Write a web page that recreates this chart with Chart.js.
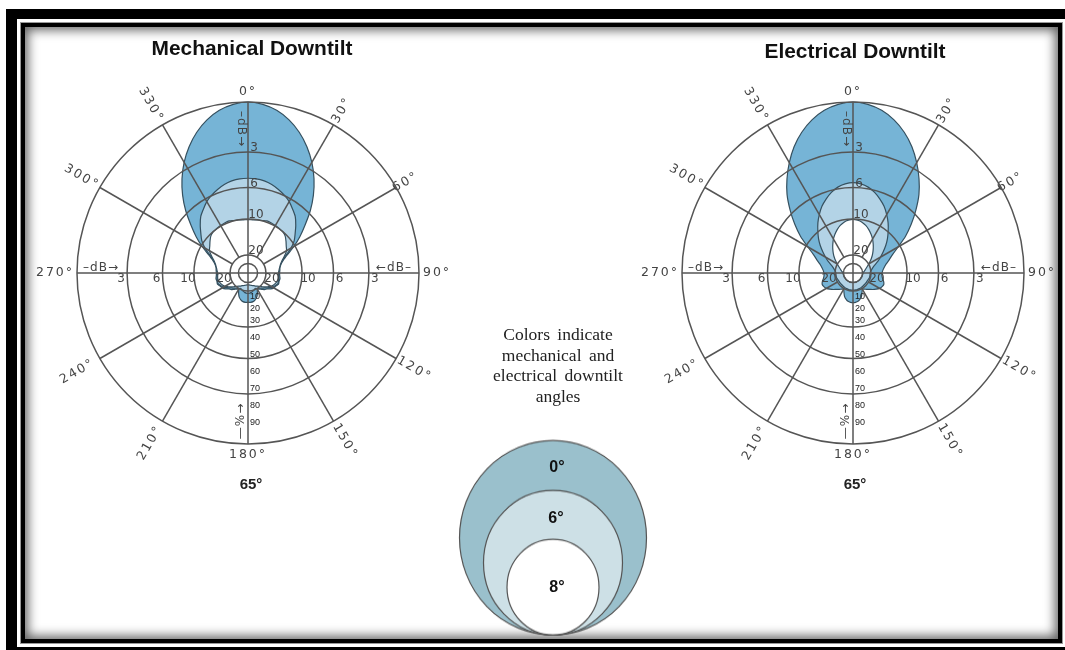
<!DOCTYPE html>
<html lang="en">
<head>
  <meta charset="UTF-8" />
  <title>Mechanical vs Electrical Downtilt</title>
  <script src="https://cdn.jsdelivr.net/npm/chart.js"></script>
  <style>
    html, body { margin: 0; padding: 0; background: white; overflow: hidden; }
    body { position: relative; width: 1065px; height: 650px; font-family: 'Liberation Sans', Arial, sans-serif; }

    /* picture frame */
    .bar { position: absolute; background: black; }
    .frame-inner { position: absolute; left: 21px; top: 23px; width: 1041px; height: 620px; box-sizing: border-box; background: white; border: 4px solid black; outline: 1px solid #999;
      box-shadow: inset 0 0 11px 3px rgba(0, 0, 0, 0.62); }

    canvas { position: absolute; }
    .title { position: absolute; font-weight: bold; font-size: 20.9px; color: #111; white-space: nowrap; transform: translateX(-50%); }
    .sub { position: absolute; font-weight: bold; font-size: 15px; color: #222; white-space: nowrap; transform: translateX(-50%); }
    .note { position: absolute; left: 458px; top: 324px; width: 200px; text-align: center; font-family: 'Liberation Serif', serif; font-size: 17.5px; line-height: 20.6px; word-spacing: 3px; color: #222; }
    .tilt { position: absolute; font-weight: bold; font-size: 16px; color: #111; transform: translateX(-50%); }
    #legendChart { transform: scaleY(1.04); transform-origin: bottom; }
  </style>
</head>
<body>
  <div class="bar" style="left:6px;top:9px;width:11px;height:641px"></div>
  <div class="bar" style="left:6px;top:9px;width:1059px;height:10px"></div>
  <div class="bar" style="left:17px;top:647px;width:1048px;height:3px"></div>
  <div class="frame-inner"></div>

  <canvas id="mechanicalChart" width="440" height="440" style="left:28px;top:53px"></canvas>
  <canvas id="electricalChart" width="440" height="440" style="left:633px;top:53px"></canvas>
  <canvas id="legendChart" width="220" height="220" style="left:443px;top:420px"></canvas>

  <div class="title" style="left:252px;top:36px">Mechanical Downtilt</div>
  <div class="title" style="left:855px;top:39px">Electrical Downtilt</div>
  <div class="sub" style="left:251px;top:475px">65°</div>
  <div class="sub" style="left:855px;top:475px">65°</div>
  <div class="note">Colors indicate<br>mechanical and<br>electrical downtilt<br>angles</div>
  <div class="tilt" style="left:557px;top:458px">0°</div>
  <div class="tilt" style="left:556px;top:509px">6°</div>
  <div class="tilt" style="left:557px;top:578px">8°</div>

  <script>
    // pattern radii are % of relative field, every 5 degrees clockwise from 0
    const angles = Array.from({ length: 72 }, (_, i) => i * 5);

    const mechanical0 = [100,99,96.6,92.7,87.6,81.5,74.7,67.3,59.5,51.5,43.5,37,31,25.5,22,20,19,18.7,18.5,18.6,19,18.8,19,18,17.4,16.2,14.5,13.7,12.5,11.5,11,13,15,16.2,17,17.2,17.2,
      17.2,17,16.2,15,13,11,11.5,12.5,13.7,14.5,16.2,17.4,18,19,18.8,19,18.6,18.5,18.7,19,20,22,25.5,31,37,43.5,51.5,59.5,67.3,74.7,81.5,87.6,92.7,96.6,99];
    const mechanical6 = [55.4,55.3,54.7,53.6,52,50.2,48.2,45.5,43,39.5,36,33,29,24.5,21,19.5,18.5,18,18,18,18.3,18.5,18.5,17.5,16.5,15,13.5,12.5,11.5,11,10.5,10,10.5,11,11.5,11.8,12,
      11.8,11.5,11,10.5,10,10.5,11,11.5,12.5,13.5,15,16.5,17.5,18.5,18.5,18.3,18,18,18,18.5,19.5,21,24.5,29,33,36,39.5,43,45.5,48.2,50.2,52,53.6,54.7,55.3];
    const mechanical8 = [31.2,31.2,31.5,31.8,32.4,32.3,32,31.8,31.5,30.7,29,27.3,26,23.5,21.2,19.7,18.8,18.2,17.8,17.8,18,17.8,17.2,16.5,15.6,14,12.7,11.3,10.2,9.4,8.8,8.2,7.8,7.5,7.2,7,7,
      7,7.2,7.5,7.8,8.2,8.8,9.4,10.2,11.3,12.7,14,15.6,16.5,17.2,17.8,18,17.8,17.8,18.2,18.8,19.7,21.2,23.5,26,27.3,29,30.7,31.5,31.8,32,32.3,32.4,31.8,31.5,31.2];

    const electrical0 = [100,99,96.6,92.7,87.6,81.5,74.5,67.3,60,52,44.5,37.5,30.5,25.5,22.5,20,18.5,17.5,17,17,17.5,18.5,19.2,18.8,18,16.5,15,13.5,12.5,11.5,11,12.5,14.5,15.8,16.8,17.2,17.3,
      17.2,16.8,15.8,14.5,12.5,11,11.5,12.5,13.5,15,16.5,18,18.8,19.2,18.5,17.5,17,17,17.5,18.5,20,22.5,25.5,30.5,37.5,44.5,52,60,67.3,74.5,81.5,87.6,92.7,96.6,99];
    const electrical6 = [52.8,52.3,51,48.8,46,43,39.4,35.8,32,28.5,25,21.5,18.5,16,13.5,12,11,10.3,10,10,10,10,9.8,9.6,9.5,9.5,9.5,9.5,9.5,9.6,9.7,9.8,9.9,10,10,10,10,
      10,10,10,9.9,9.8,9.7,9.6,9.5,9.5,9.5,9.5,9.5,9.6,9.8,10,10,10,10,10.3,11,12,13.5,16,18.5,21.5,25,28.5,32,35.8,39.4,43,46,48.8,51,52.3];
    const electrical8 = [31.4,31,30.2,28.8,27,25,22.9,20.6,18.4,16.3,14.3,12.4,10.7,9.3,8.2,7.4,6.8,6.2,5.9,5.8,5.7,5.6,5.6,5.6,5.5,5.5,5.5,5.5,5.5,5.5,5.5,5.5,5.5,5.5,5.5,5.5,5.5,
      5.5,5.5,5.5,5.5,5.5,5.5,5.5,5.5,5.5,5.5,5.5,5.5,5.6,5.6,5.6,5.7,5.8,5.9,6.2,6.8,7.4,8.2,9.3,10.7,12.4,14.3,16.3,18.4,20.6,22.9,25,27,28.8,30.2,31];

    // ring positions on the % scale: 0 dB, 3, 6, 10, 20 and the small inner ring (first tick is skipped by chart.js)
    const ringValues = [0, 5.6, 10.5, 31.6, 50, 70.7, 100];
    const dbTicks = ['3', '6', '10', '20'];
    const dbTickValues = [70.7, 50, 31.6, 10.5];
    const percentTicks = [10, 20, 30, 40, 50, 60, 70, 80, 90];

    const spokeAngles = [0, 30, 60, 90, 120, 150, 180, 210, 240, 270, 300, 330];
    const spokeLabels = ['0°', '30°', '60°', '90°', '120°', '150°', '180°', '210°', '240°', '270°', '300°', '330°'];
    const spokeLabelDist = [181, 188, 182, 189, 192, 194, 182, 196, 197, 193, 192, 194];
    const spokeLabelTurn = [0, -60, -30, 0, 30, 60, 0, -60, -30, 0, 30, 60];

    const legendLabels = ['8°', '6°', '0°'];
    const legendHeights = [50.8, 74.3, 98.3];
    const legendRadii = [46, 69.5, 93.5];
    const legendColors = ['#ffffff', '#cde0e6', '#9ac0cc'];

    const lineColor = '#555';

    function put(ctx, text, x, y, turn) {
      ctx.save();
      ctx.translate(x, y);
      ctx.rotate((turn || 0) * Math.PI / 180);
      ctx.fillText(text, 0, 0);
      ctx.restore();
    }

    const dialPlugin = {
      id: 'dial',
      afterDatasetsDraw(chart) {
        const ctx = chart.ctx;
        const s = chart.scales.r;
        const cx = s.xCenter, cy = s.yCenter;
        const outer = s.getDistanceFromCenterForValue(100);
        const inner = s.getDistanceFromCenterForValue(10.5);

        ctx.save();
        ctx.strokeStyle = lineColor;
        ctx.lineWidth = 1.5;
        spokeAngles.forEach((a) => {
          // only the vertical and horizontal axes run through the centre
          const from = a % 90 === 0 ? 0 : inner;
          const p1 = s.getPointPosition(a / 5, from);
          const p2 = s.getPointPosition(a / 5, outer);
          ctx.beginPath();
          ctx.moveTo(p1.x, p1.y);
          ctx.lineTo(p2.x, p2.y);
          ctx.stroke();
        });

        ctx.textAlign = 'center';
        ctx.textBaseline = 'middle';
        ctx.fillStyle = '#444';

        // degree labels
        ctx.font = "12.5px 'DejaVu Sans'";
        ctx.letterSpacing = '2px';
        spokeAngles.forEach((a, i) => {
          const p = s.getPointPosition(a / 5, spokeLabelDist[i]);
          put(ctx, spokeLabels[i], p.x, p.y, spokeLabelTurn[i]);
        });

        // dB arrows
        ctx.font = "12px 'DejaVu Sans'";
        ctx.letterSpacing = '1px';
        put(ctx, '–dB→', cx - 147, cy - 5);
        put(ctx, '←dB–', cx + 146, cy - 5);
        put(ctx, '–dB→', cx - 7, cy - 144, 90);
        put(ctx, '—%→', cx - 7, cy + 148, -90);

        // dB tick numbers on both horizontal arms and the upper vertical arm
        ctx.letterSpacing = '0px';
        ctx.font = "12px 'DejaVu Sans'";
        dbTicks.forEach((t, i) => {
          const d = s.getDistanceFromCenterForValue(dbTickValues[i]);
          put(ctx, t, cx - d - 6, cy + 6);
          put(ctx, t, cx + d + 6, cy + 6);
          put(ctx, t, cx + 4 + t.length * 2, cy - d - 4);
        });

        // percent numbers on the lower vertical arm
        ctx.font = "9px 'Liberation Sans'";
        ctx.fillStyle = '#222';
        percentTicks.forEach((t) => {
          const d = s.getDistanceFromCenterForValue(t);
          const shift = t === 10 ? 6 : t === 20 ? 1 : -4;
          put(ctx, String(t), cx + 7, cy + d + shift);
        });
        ctx.restore();
      }
    };

    function patternDataset(values, color) {
      return {
        data: values,
        backgroundColor: color,
        borderColor: '#35505f',
        borderWidth: 1.2,
        fill: true,
        tension: 0.25,
        pointRadius: 0
      };
    }

    function drawPolar(id, series0, series6, series8) {
      new Chart(document.getElementById(id), {
        type: 'radar',
        data: {
          labels: angles,
          // first dataset is painted last
          datasets: [
            patternDataset(series8, '#ffffff'),
            patternDataset(series6, '#b3d3e6'),
            patternDataset(series0, '#76b4d6')
          ]
        },
        plugins: [dialPlugin],
        options: {
          responsive: false,
          animation: false,
          events: [],
          layout: { padding: 49 },
          plugins: { legend: { display: false }, tooltip: { enabled: false } },
          scales: {
            r: {
              min: 0,
              max: 100,
              afterBuildTicks(scale) { scale.ticks = ringValues.map((v) => ({ value: v })); },
              angleLines: { display: false },
              grid: { circular: true, color: lineColor, lineWidth: 1.5, z: 1 },
              ticks: { display: false },
              pointLabels: { display: false }
            }
          }
        }
      });
    }

    drawPolar('mechanicalChart', mechanical0, mechanical6, mechanical8);
    drawPolar('electricalChart', electrical0, electrical6, electrical8);

    new Chart(document.getElementById('legendChart'), {
      type: 'bubble',
      data: {
        datasets: legendLabels.map((label, i) => ({
          label: label,
          data: [{ x: 110, y: legendHeights[i], r: legendRadii[i] }],
          backgroundColor: legendColors[i],
          borderColor: '#555',
          borderWidth: 1.2
        }))
      },
      options: {
        responsive: false,
        animation: false,
        events: [],
        layout: { autoPadding: false },
        plugins: { legend: { display: false }, tooltip: { enabled: false } },
        scales: {
          x: { display: false, min: 0, max: 220 },
          y: { display: false, min: 0, max: 220 }
        }
      }
    });
  </script>
</body>
</html>
